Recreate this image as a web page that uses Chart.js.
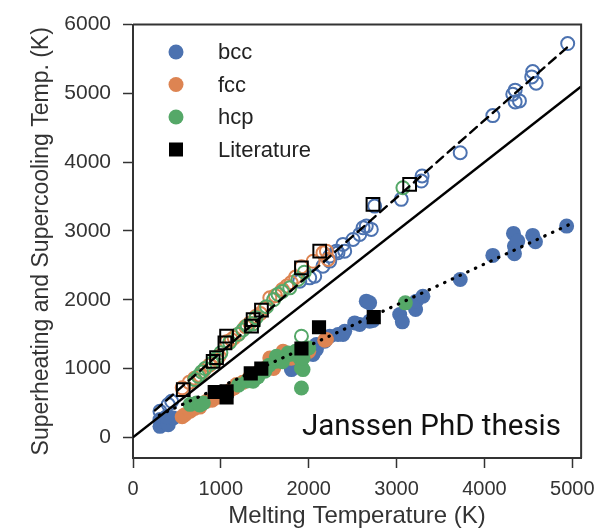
<!DOCTYPE html>
<html>
<head>
<meta charset="utf-8">
<script src="https://cdn.jsdelivr.net/npm/chart.js@4.4.1/dist/chart.umd.min.js"></script>
<style>
  html, body { margin: 0; padding: 0; background: #fff; }
  #wrap { position: relative; width: 604px; height: 531px; }
  #note { position: absolute; left: 302px; top: 411px; font: 29.5px Roboto, sans-serif; color: #111; white-space: nowrap; line-height: 1; }
</style>
</head>
<body>
<div id="wrap">
  <canvas id="myChart" width="604" height="531"></canvas>
  <div id="note">Janssen PhD thesis</div>
</div>
<script>
// [melting T, temperature] pairs
// filled = supercooling, open = superheating
const bccCool = [[307,258],[307,160],[345,230],[401,185],[458,281],[380,300],[1803,985],[2049,1204],[2087,1277],[2087,1349],
  [2182,1397],[2239,1470],[2333,1495],[2390,1495],[2409,1543],[2523,1664],[2580,1640],[2655,1980],[2693,1955],
  [2693,1689],[2731,1700],[3035,1786],[3065,1679],[3216,1859],[3224,1980],[3299,2052],[3724,2295],[4095,2645],
  [4330,2965],[4341,2780],[4341,2668],[4379,2853],[4549,2936],[4580,2843],[4935,3071]];
const fccCool = [[560,300],[591,330],[650,380],[700,420],[760,440],[837,524],[900,540],[950,580],[1000,600],[1080,660],
  [1120,700],[1150,720],[1178,767],[1250,800],[1330,880],[1380,900],[1420,940],[1450,960],[1500,1000],[1557,1154],
  [1600,1000],[1620,1060],[1708,1252],[1800,1150],[2000,1250],[2182,1412],[2201,1422]];
const hcpCool = [[650,480],[723,500],[760,470],[800,500],[1050,640],[1200,760],[1300,820],[1367,815],[1420,880],
  [1500,960],[1550,1050],[1633,1106],[1633,1179],[1700,1100],[1765,1227],[1784,1204],[1850,1250],[1898,1154],
  [1917,1009],[1917,718],[1935,985],[1935,1154],[2000,1300],[3099,1955]];
const litCool = [[930,660],[1065,670],[1065,580],[1340,930],[1460,1000],[1917,1291],[2117,1601],[2740,1747]];

const bccHeat = [[307,378],[401,476],[440,524],[1898,2271],[2011,2319],[2068,2343],[2162,2489],[2239,2562],[2239,2635],
  [2315,2707],[2333,2683],[2390,2805],[2409,2707],[2504,2877],[2580,2950],[2618,3047],[2655,3071],[2712,3023],
  [2750,3362],[3053,3460],[3281,3726],[3290,3800],[3724,4138],[4095,4677],[4322,4988],[4349,5047],[4349,4876],
  [4398,4891],[4538,5240],[4549,5317],[4588,5149],[4947,5725]];
const fccHeat = [[560,720],[640,800],[700,860],[760,900],[800,960],[870,1050],[950,1130],[980,1180],[1065,1390],
  [1120,1420],[1150,1450],[1200,1500],[1280,1610],[1330,1660],[1400,1760],[1450,1800],[1500,1880],[1557,2028],
  [1620,2060],[1700,2150],[1750,2200],[1800,2250],[1850,2330],[1917,2480],[2050,2560],[2162,2683],[2201,2707],[2220,2587]];
const hcpHeat = [[705,840],[742,888],[780,950],[820,1000],[900,1080],[950,1150],[1000,1230],[1100,1380],[1200,1500],
  [1250,1560],[1300,1620],[1367,1650],[1400,1740],[1520,1900],[1600,2000],[1650,2080],[1700,2120],[1784,2173],
  [1878,2295],[1950,2400],[1917,1470],[3072,3629]];
const litHeat = [[572,694],[912,1106],[951,1160],[1046,1373],[1065,1470],[1349,1616],[1367,1713],[1462,1850],
  [1917,2464],[2125,2707],[2731,3387],[3148,3678]];

// reference lines
const equalLine = [[0,0],[5100,5100]];
const heatFit = [[250,391],[4960,5690]];
const coolFit = [[300,322],[4960,3090]];

const xTicks = [0,1000,2000,3000,4000,5000];
const yTicks = [0,1000,2000,3000,4000,5000,6000];

const blue = '#4c72b0', orange = '#dd8452', green = '#55a868';
const pts = arr => arr.map(p => ({x: p[0], y: p[1]}));

const filled = (label, arr, color, order, legend) => ({
  label, data: pts(arr), pointStyle: 'circle', pointRadius: 7.5, backgroundColor: color,
  borderColor: color, borderWidth: 0, order, legend
});
const hollow = (label, arr, color, order) => ({
  label, data: pts(arr), pointStyle: 'circle', pointRadius: 6.5, backgroundColor: 'rgba(0,0,0,0)',
  borderColor: color, pointBorderWidth: 2, order
});
const line = (label, arr, dash, width, order) => ({
  label, data: pts(arr), showLine: true, pointRadius: 0, borderColor: '#000', borderWidth: width,
  borderDash: dash, borderCapStyle: dash.length ? 'round' : 'butt', order
});

const datasets = [
  line('y=x', equalLine, [], 2.4, 0),
  line('heat fit', heatFit, [9, 6], 2.4, 0),
  line('cool fit', coolFit, [0.5, 8], 3.2, 0),
  {label: 'Literature', data: pts(litCool), pointStyle: 'rect', pointRadius: 10, backgroundColor: '#000',
    borderColor: '#000', borderWidth: 0, order: 1, legend: true},
  {label: 'Literature heat', data: pts(litHeat), pointStyle: 'rect', pointRadius: 9, backgroundColor: 'rgba(0,0,0,0)',
    borderColor: '#000', pointBorderWidth: 2, order: 1},
  filled('hcp', hcpCool, green, 2, true),
  hollow('hcp heat', hcpHeat, green, 2),
  filled('fcc', fccCool, orange, 3, true),
  hollow('fcc heat', fccHeat, orange, 3),
  filled('bcc', bccCool, blue, 4, true),
  hollow('bcc heat', bccHeat, blue, 4)
];

// top and right side of the box
const frame = {
  id: 'frame',
  afterDraw(chart) {
    const {ctx, chartArea: a} = chart;
    ctx.save();
    ctx.strokeStyle = '#333';
    ctx.lineWidth = 2;
    ctx.beginPath();
    ctx.moveTo(a.left, a.top);
    ctx.lineTo(a.right, a.top);
    ctx.lineTo(a.right, a.bottom);
    ctx.stroke();
    ctx.restore();
  }
};

// legend inside the axes, upper left
const innerLegend = {
  id: 'innerLegend',
  afterDraw(chart) {
    const ctx = chart.ctx;
    const items = chart.data.datasets.filter(d => d.legend);
    const order = ['bcc', 'fcc', 'hcp', 'Literature'];
    items.sort((a, b) => order.indexOf(a.label) - order.indexOf(b.label));
    ctx.save();
    ctx.font = '22px "Liberation Sans", Arial, sans-serif';
    ctx.textBaseline = 'middle';
    items.forEach((d, i) => {
      const y = 52 + i * 32.5;
      ctx.fillStyle = d.backgroundColor;
      if (d.pointStyle === 'rect') {
        ctx.fillRect(169, y - 7, 14, 14);
      } else {
        ctx.beginPath();
        ctx.arc(176, y, 7.5, 0, Math.PI * 2);
        ctx.fill();
      }
      ctx.fillStyle = '#222';
      ctx.fillText(d.label, 218, y + 1);
    });
    ctx.restore();
  }
};

const tickFont = size => ({family: '"Liberation Sans", Arial, sans-serif', size});

var ctx = document.getElementById('myChart').getContext('2d');
var myChart = new Chart(ctx, {
  type: 'scatter',
  data: {datasets: datasets},
  options: {
    responsive: false,
    animation: false,
    layout: {padding: {top: 23, right: 21, left: 0, bottom: 0}},
    plugins: {legend: {display: false}, tooltip: {enabled: false}},
    scales: {
      x: {
        type: 'linear', min: 0, max: 5100,
        afterBuildTicks: s => { s.ticks = xTicks.map(v => ({value: v})); },
        afterFit: s => { s.height = 73; },
        ticks: {font: tickFont(20), color: '#333', padding: 9, maxRotation: 0, callback: v => String(v)},
        grid: {display: true, drawOnChartArea: false, drawTicks: true, tickLength: 10, tickWidth: 1.5, tickColor: '#333'},
        border: {display: true, color: '#333', width: 2},
        title: {display: true, text: 'Melting Temperature (K)', color: '#333', font: tickFont(24), padding: {top: 0, bottom: 0}}
      },
      y: {
        type: 'linear', min: -300, max: 6000,
        afterBuildTicks: s => { s.ticks = yTicks.map(v => ({value: v})); },
        afterFit: s => { s.width = 133; },
        ticks: {font: tickFont(21), color: '#333', padding: 12, callback: v => String(v)},
        grid: {display: true, drawOnChartArea: false, drawTicks: true, tickLength: 10, tickWidth: 1.5, tickColor: '#333'},
        border: {display: true, color: '#333', width: 2},
        title: {display: true, text: 'Superheating and Supercooling Temp. (K)', color: '#333', font: tickFont(23), padding: {top: 28, bottom: 0}}
      }
    }
  },
  plugins: [frame, innerLegend]
});
</script>
</body>
</html>
